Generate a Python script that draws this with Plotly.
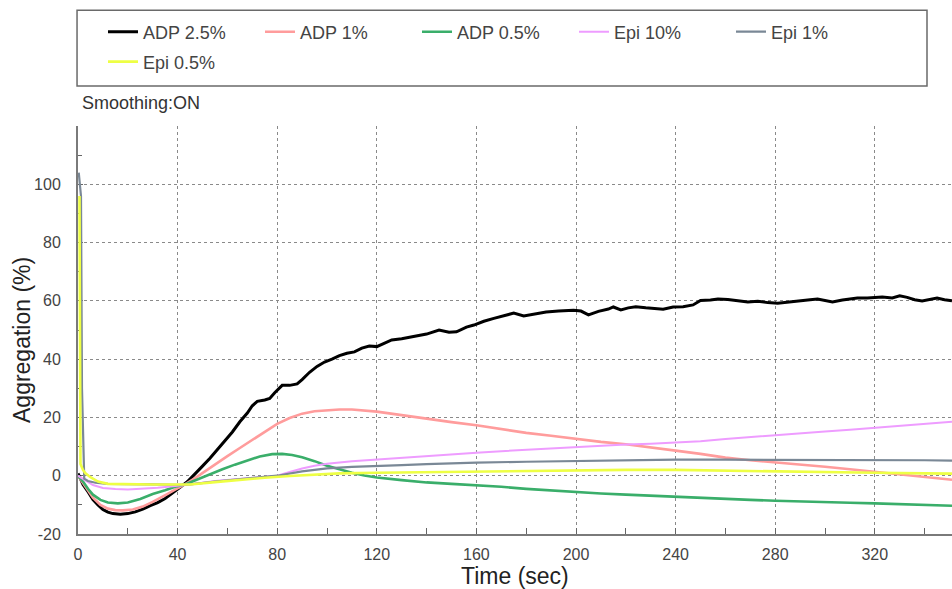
import plotly.graph_objects as go

# ---------------- data ----------------
adp25_t = [0, 2, 4, 6, 8, 10, 12, 14, 17, 20, 23, 26, 29, 32, 35, 38, 41, 44, 47, 50,
           53, 56, 59, 62, 65, 68, 70, 72, 75, 77, 79, 82, 85, 88, 90, 93, 96, 99, 102,
           105, 108, 111, 114, 117, 120, 123, 126, 130, 135, 140, 145, 149, 152, 156,
           159, 163, 167, 171, 175, 179, 183, 188, 193, 199, 202, 205, 209, 213, 215,
           218, 221, 224, 228, 232, 235, 239, 243, 247, 250, 254, 257, 261, 265, 269,
           273, 277, 281, 286, 290, 294, 297, 300, 303, 307, 310, 313, 317, 320, 323,
           327, 330, 333, 336, 339, 342, 345, 348, 351]
adp25_v = [0.8, -3, -5.5, -8.2, -10, -11.6, -12.5, -13, -13.2, -13, -12.4, -11.5, -10.3,
           -9.2, -7.8, -6, -4, -2, 0.8, 3.3, 6, 9, 12, 15, 18.5, 21.5, 24, 25.5, 26, 26.5,
           28.5, 31, 31, 31.5, 33, 35.5, 37.5, 39, 40, 41.2, 42, 42.5, 43.8, 44.5, 44.3,
           45.5, 46.6, 47, 47.9, 48.6, 50, 49.2, 49.4, 51, 51.7, 53, 54, 55, 55.8, 54.8,
           55.5, 56.2, 56.5, 56.8, 56.5, 55.2, 56.4, 57.2, 57.9, 56.9, 57.6, 58, 57.6,
           57.4, 57.1, 57.9, 58, 58.6, 60.1, 60.3, 60.6, 60.5, 60, 59.6, 59.9, 59.4, 59.2,
           59.7, 60.2, 60.4, 60.6, 60, 59.6, 60.3, 60.6, 61, 61, 61.2, 61.3, 61, 61.7,
           61.2, 60.4, 60, 60.6, 61, 60.4, 60]

adp1_t = [0, 2, 4, 6, 9, 12, 15, 18, 22, 26, 30, 33, 36, 39, 43, 47, 50, 55, 60, 65, 70,
          75, 80, 85, 90, 95, 100, 105, 110, 115, 120, 130, 140, 150, 160, 170, 180, 190,
          200, 210, 220, 230, 240, 250, 260, 270, 280, 290, 300, 310, 320, 330, 340, 351]
adp1_v = [0, -2.5, -5, -7.5, -10, -11.3, -11.8, -11.9, -11.6, -10.6, -9, -7.5, -6.2, -4.8,
          -3, -0.8, 1, 3.8, 6.7, 9.5, 12.3, 15, 17.8, 19.8, 21.3, 22.1, 22.5, 22.7, 22.7,
          22.4, 22, 20.8, 19.5, 18.4, 17.3, 16, 14.7, 13.7, 12.6, 11.6, 10.8, 9.8, 8.6,
          7.5, 6.2, 5.3, 4.6, 3.8, 3.1, 2.2, 1.3, 0.5, -0.4, -1.4]

adp05_t = [0, 2, 4, 6, 9, 12, 16, 20, 25, 30, 35, 39, 43, 48, 53, 58, 63, 68, 73, 78, 82,
           86, 90, 95, 100, 105, 110, 115, 120, 130, 140, 150, 160, 170, 180, 190, 200,
           210, 220, 230, 240, 250, 260, 270, 280, 290, 300, 310, 320, 330, 340, 351]
adp05_v = [0, -2, -4.5, -6.5, -8.3, -9.2, -9.5, -9.2, -8, -6.3, -5, -3.8, -3, -1.2, 0.6,
           2.2, 3.8, 5.3, 6.6, 7.4, 7.5, 7.1, 6.3, 5, 3.4, 2.2, 1, 0.1, -0.6, -1.5, -2.3,
           -2.8, -3.2, -3.8, -4.5, -5.1, -5.7, -6.1, -6.5, -6.9, -7.3, -7.7, -8, -8.3,
           -8.6, -8.9, -9.1, -9.3, -9.5, -9.8, -10, -10.3]

epi10_t = [0, 3, 6, 10, 15, 20, 26, 32, 39, 45, 55, 65, 75, 80, 85, 90, 95, 100, 110,
           120, 130, 140, 150, 160, 170, 180, 190, 200, 210, 220, 230, 240, 250, 260,
           270, 280, 290, 300, 310, 320, 330, 340, 351]
epi10_v = [0, -1.5, -3.2, -4.2, -4.6, -4.7, -4.5, -4.1, -3.5, -3, -1.8, -1, -0.4, 0, 1.3,
           2.5, 3.4, 4.1, 5, 5.6, 6.3, 6.9, 7.4, 7.9, 8.4, 8.9, 9.4, 9.9, 10.3, 10.7, 11,
           11.4, 11.8, 12.6, 13.3, 14, 14.6, 15.2, 15.8, 16.4, 17.1, 17.8, 18.5]

epi1_t = [0.3, 1.2, 1.6, 2.5, 4, 7, 12, 20, 30, 40, 45, 55, 65, 75, 80, 90, 100, 110,
          120, 130, 140, 150, 160, 180, 200, 220, 240, 260, 280, 300, 320, 340, 351]
epi1_v = [104, 96, 30, -1, -1.8, -2.4, -2.8, -3, -3, -3.1, -3, -2, -1.2, -0.4, 0, 1.5,
          2.5, 3, 3.2, 3.6, 4, 4.3, 4.5, 4.8, 5.1, 5.3, 5.5, 5.5, 5.5, 5.4, 5.4, 5.3, 5.2]

epi05_t = [0.6, 1.0, 2, 3, 5, 8, 12, 20, 30, 40, 45, 55, 65, 75, 85, 95, 105, 120, 140,
           160, 180, 200, 220, 240, 260, 280, 300, 320, 340, 351]
epi05_v = [96, 4, 2, 0.8, -0.5, -2, -2.8, -3, -3, -3, -3, -2.2, -1.4, -0.7, -0.1, 0.4,
           0.8, 1, 1.2, 1.4, 1.7, 1.9, 2, 2, 1.7, 1.4, 1.2, 1, 0.8, 0.7]

x_ticks = [0, 40, 80, 120, 160, 200, 240, 280, 320]
y_ticks = [-20, 0, 20, 40, 60, 80, 100]

series = [
    ("ADP 2.5%", adp25_t, adp25_v, "#000000", 3.0, "legend"),
    ("ADP 1%", adp1_t, adp1_v, "#ff9c9c", 2.6, "legend"),
    ("ADP 0.5%", adp05_t, adp05_v, "#3aae6a", 2.6, "legend"),
    ("Epi 10%", epi10_t, epi10_v, "#ee9cff", 2.0, "legend"),
    ("Epi 1%", epi1_t, epi1_v, "#7a8896", 2.2, "legend"),
    ("Epi 0.5%", epi05_t, epi05_v, "#eeff44", 2.6, "legend2"),
]

# ---------------- figure ----------------
fig = go.Figure()
for name, t, v, color, w, lg in series:
    fig.add_trace(go.Scatter(x=t, y=v, mode="lines", name=name,
                             line=dict(color=color, width=w), legend=lg))

FONT = "Liberation Sans, Arial, Helvetica, sans-serif"

legend_common = dict(orientation="h", xref="paper", yref="paper",
                     xanchor="left", yanchor="middle", bgcolor="rgba(0,0,0,0)",
                     borderwidth=0, entrywidthmode="pixels", entrywidth=112,
                     font=dict(family=FONT, size=18, color="#444"),
                     itemclick=False, itemdoubleclick=False)

fig.update_layout(
    width=952, height=589,
    margin=dict(l=78, r=0, t=126, b=55),
    paper_bgcolor="white", plot_bgcolor="white",
    font=dict(family=FONT, color="#444"),
    showlegend=True,
    legend=dict(x=0.0286, y=1.2304, **legend_common),
    legend2=dict(x=0.0286, y=1.157, **legend_common),
    xaxis=dict(
        range=[0, 351], tickvals=x_ticks, ticktext=[str(v) for v in x_ticks],
        showgrid=True, gridcolor="#8a8a8a", griddash="dot", gridwidth=1,
        zeroline=False, showline=True, linecolor="#7a7a7a", linewidth=2,
        ticks="inside", ticklen=6, tickcolor="#666", tickwidth=1,
        minor=dict(dtick=20, tick0=0, ticks="inside", ticklen=6, tickcolor="#666",
                   showgrid=False),
        tickfont=dict(size=16, color="#444"), ticklabelstandoff=5,
        automargin=False, layer="below traces",
    ),
    yaxis=dict(
        range=[-20, 120], tickvals=y_ticks, ticktext=[str(v) for v in y_ticks],
        showgrid=True, gridcolor="#8a8a8a", griddash="dot", gridwidth=1,
        zeroline=False, showline=True, linecolor="#7a7a7a", linewidth=2,
        ticks="inside", ticklen=5, tickcolor="#666", tickwidth=1,
        minor=dict(dtick=10, tick0=0, ticks="inside", ticklen=4, tickcolor="#666",
                   showgrid=False),
        tickfont=dict(size=16, color="#444"), ticklabelstandoff=12,
        automargin=False, layer="below traces",
    ),
    shapes=[dict(type="rect", xref="paper", yref="paper",
                 x0=-0.0011, x1=0.9714, y0=1.098, y1=1.284,
                 line=dict(color="#6a6a6a", width=1.5), fillcolor="rgba(0,0,0,0)")],
    annotations=[
        dict(text="Smoothing:ON", xref="paper", yref="paper",
             x=0.002, y=(534 - 103) / 408, xanchor="left", yanchor="middle",
             showarrow=False, font=dict(family=FONT, size=18, color="#333")),
        dict(text="Aggregation (%)", xref="paper", yref="paper", textangle=-90,
             x=(22 - 78) / 874, y=(534 - 340) / 408, xanchor="center", yanchor="middle",
             showarrow=False, font=dict(family=FONT, size=23, color="#222")),
        dict(text="Time (sec)", xref="paper", yref="paper",
             x=(515 - 78) / 874, y=(534 - 576) / 408, xanchor="center", yanchor="middle",
             showarrow=False, font=dict(family=FONT, size=23, color="#222")),
    ],
)

fig.write_html("out.html",
               config={"displayModeBar": False},
               post_script="document.body.style.margin='0';"
                           "document.body.style.overflow='hidden';")
